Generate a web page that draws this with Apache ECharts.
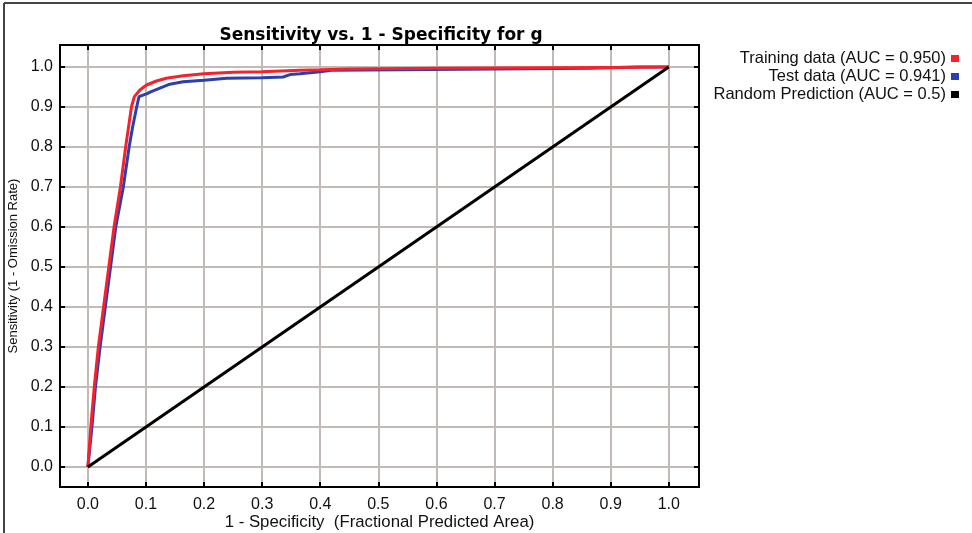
<!DOCTYPE html>
<html>
<head>
<meta charset="utf-8">
<script src="https://cdn.jsdelivr.net/npm/echarts@6/dist/echarts.min.js"></script>
<style>
  html, body { margin: 0; padding: 0; background: #fff; }
  #chart { width: 972px; height: 533px; }
</style>
</head>
<body>
<div id="chart"></div>
<script>
// tick values on both axes
var tickValues = [0.0, 0.1, 0.2, 0.3, 0.4, 0.5, 0.6, 0.7, 0.8, 0.9, 1.0];

// Training data (AUC = 0.950): [1 - specificity, sensitivity]
var trainX = [0, 0.005, 0.011, 0.018, 0.027, 0.036, 0.045, 0.056, 0.065, 0.070, 0.075, 0.080, 0.0895, 0.101, 0.118, 0.135, 0.164, 0.2, 0.25, 0.3, 0.365, 0.4, 0.45, 0.6, 0.9, 1.0];
var trainY = [0, 0.1, 0.2, 0.3, 0.4, 0.5, 0.6, 0.7, 0.8, 0.85, 0.9, 0.926, 0.9425, 0.955, 0.965, 0.972, 0.978, 0.983, 0.987, 0.988, 0.992, 0.993, 0.995, 0.997, 0.999, 1.0];

// Test data (AUC = 0.941)
var testX = [0, 0.007, 0.013, 0.021, 0.030, 0.039, 0.048, 0.061, 0.071, 0.077, 0.084, 0.088, 0.103, 0.107, 0.124, 0.141, 0.164, 0.2, 0.239, 0.3, 0.336, 0.348, 0.365, 0.4, 0.419, 0.537, 0.864, 0.947, 1.0];
var testY = [0, 0.1, 0.2, 0.3, 0.4, 0.5, 0.6, 0.7, 0.8, 0.85, 0.9, 0.926, 0.934, 0.937, 0.947, 0.957, 0.963, 0.967, 0.972, 0.973, 0.975, 0.981, 0.983, 0.988, 0.992, 0.993, 0.997, 1.0, 1.0];

// Random Prediction (AUC = 0.5)
var randomX = [0, 1];
var randomY = [0, 1];

var seriesNames = ['Training data (AUC = 0.950)', 'Test data (AUC = 0.941)', 'Random Prediction (AUC = 0.5)'];

function pairs(xs, ys) {
  var out = [];
  for (var i = 0; i < xs.length; i++) out.push([xs[i], ys[i]]);
  return out;
}

var fontFam = '"Liberation Sans", Arial, sans-serif';
var gridColor = '#c2bab6';

function baseAxis(pos) {
  return {
    type: 'value',
    position: pos,
    axisLine: { show: true, onZero: false, lineStyle: { color: '#000', width: 2 } },
    axisTick: { show: true, inside: true, length: 5, customValues: tickValues, lineStyle: { color: '#000', width: 2 } },
    splitLine: { show: false },
    axisLabel: { show: false }
  };
}

var xMain = baseAxis('bottom');
xMain.min = -0.048; xMain.max = 1.052;
xMain.splitLine = { show: true, lineStyle: { color: gridColor, width: 2 } };
xMain.axisLabel = { show: true, customValues: tickValues, margin: 10, color: '#111', fontSize: 16, fontFamily: fontFam,
  formatter: function (v) { return v.toFixed(1); } };
xMain.name = '1 - Specificity  (Fractional Predicted Area)';
xMain.nameLocation = 'middle';
xMain.nameGap = 35;
xMain.nameTextStyle = { color: '#111', fontSize: 16.8, fontFamily: fontFam, verticalAlign: 'middle' };
xMain.nameMoveOverlap = false;

var xTop = baseAxis('top');
xTop.min = -0.048; xTop.max = 1.052;

var yMain = baseAxis('left');
yMain.min = -0.05; yMain.max = 1.055;
yMain.splitLine = { show: true, lineStyle: { color: gridColor, width: 2 } };
yMain.axisLabel = { show: true, customValues: tickValues, margin: 7, color: '#111', fontSize: 16, fontFamily: fontFam,
  formatter: function (v) { return v.toFixed(1); } };
yMain.name = 'Sensitivity (1 - Omission Rate)';
yMain.nameLocation = 'middle';
yMain.nameGap = 34;
yMain.nameTextStyle = { color: '#111', fontSize: 13, fontFamily: fontFam };

var yRight = baseAxis('right');
yRight.min = -0.05; yRight.max = 1.055;

var chart = echarts.init(document.getElementById('chart'), null, { renderer: 'canvas' });
chart.setOption({
  backgroundColor: '#fff',
  animation: false,
  title: {
    text: 'Sensitivity vs. 1 - Specificity for g',
    left: 376, top: 22, textAlign: 'center',
    textStyle: { fontSize: 17, fontWeight: 'bold', color: '#000', fontFamily: '"DejaVu Sans", Verdana, sans-serif' }
  },
  legend: {
    orient: 'vertical',
    right: 8, top: 45,
    align: 'right',
    icon: 'rect',
    itemWidth: 8, itemHeight: 7,
    itemGap: 1,
    textStyle: { fontSize: 16.5, color: '#111', fontFamily: fontFam },
    data: seriesNames
  },
  grid: { left: 60, right: 273, top: 45, bottom: 46, show: true, borderColor: '#000', borderWidth: 2,
    outerBoundsMode: 'none', containLabel: false },
  xAxis: [xMain, xTop],
  yAxis: [yMain, yRight],
  graphic: [
    { type: 'line', shape: { x1: 4, y1: 3, x2: 972, y2: 3 }, style: { stroke: '#444', lineWidth: 2 } },
    { type: 'line', shape: { x1: 4, y1: 3, x2: 4, y2: 533 }, style: { stroke: '#444', lineWidth: 2 } }
  ],
  series: [
    { name: seriesNames[0], type: 'line', xAxisIndex: 0, yAxisIndex: 0, data: pairs(trainX, trainY),
      showSymbol: false, color: '#f5222d', lineStyle: { width: 3, color: '#f5222d' }, z: 3 },
    { name: seriesNames[1], type: 'line', xAxisIndex: 0, yAxisIndex: 0, data: pairs(testX, testY),
      showSymbol: false, color: '#2b3fae', lineStyle: { width: 3, color: '#2b3fae' }, z: 2 },
    { name: seriesNames[2], type: 'line', xAxisIndex: 0, yAxisIndex: 0, data: pairs(randomX, randomY),
      showSymbol: false, color: '#000', lineStyle: { width: 3, color: '#000' }, z: 4 }
  ]
});
</script>
</body>
</html>
